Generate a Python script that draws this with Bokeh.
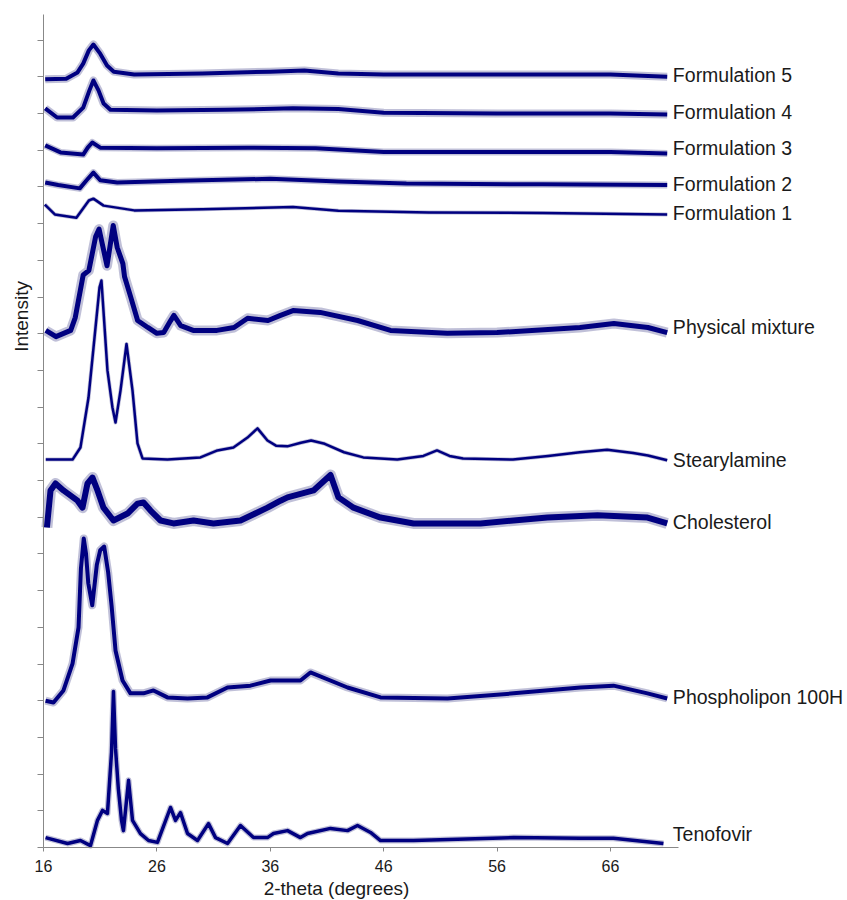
import math
from bokeh.plotting import figure
from bokeh.models import Range1d, FixedTicker
from bokeh.core.properties import value
from bokeh.embed import file_html
from bokeh.resources import INLINE

# ---------------- data (2-theta in degrees, intensity in tick units) ----------------
x_ticks = [16, 26, 36, 46, 56, 66]
x_min, x_max = 16, 72
y_min, y_max = 0, 22.7
y_ticks = list(range(0, 23))

names = ["Formulation 5", "Formulation 4", "Formulation 3", "Formulation 2", "Formulation 1",
         "Physical mixture", "Stearylamine", "Cholesterol", "Phospholipon 100H", "Tenofovir"]
offsets = [21.0, 20.0, 18.95, 18.05, 17.25, 14.05, 10.55, 8.8, 4.0, 0.0]

f5_x = [16.15, 18.0, 19.0, 19.5, 20.0, 20.4, 21.0, 21.6, 22.2, 24.0, 30.0, 36.0, 39.0, 42.0, 46.0, 56.0, 66.0, 71.0]
f5_y = [-0.07, -0.05, 0.12, 0.36, 0.72, 0.88, 0.63, 0.31, 0.14, 0.06, 0.09, 0.14, 0.17, 0.09, 0.06, 0.06, 0.06, 0.0]

f4_x = [16.15, 17.2, 18.6, 19.5, 20.05, 20.4, 20.85, 21.3, 21.9, 26.0, 32.0, 38.0, 42.0, 46.0, 56.0, 66.0, 71.0]
f4_y = [0.14, -0.11, -0.11, 0.16, 0.63, 0.9, 0.63, 0.27, 0.1, 0.08, 0.1, 0.14, 0.12, 0.02, 0.0, 0.0, -0.03]

f3_x = [16.15, 17.5, 19.5, 19.9, 20.3, 21.0, 26.0, 34.0, 40.0, 46.0, 56.0, 66.0, 71.0]
f3_y = [0.18, -0.01, -0.07, 0.12, 0.26, 0.12, 0.1, 0.12, 0.1, 0.0, 0.0, 0.0, -0.04]

f2_x = [16.15, 17.3, 19.2, 19.8, 20.4, 21.0, 22.5, 28.0, 36.0, 42.0, 48.0, 60.0, 71.0]
f2_y = [0.07, 0.0, -0.09, 0.13, 0.34, 0.13, 0.07, 0.12, 0.17, 0.1, 0.04, 0.02, 0.0]

f1_x = [16.12, 17.0, 18.9, 20.0, 20.4, 21.3, 24.0, 30.0, 38.0, 42.0, 50.0, 60.0, 71.0]
f1_y = [0.27, 0.0, -0.09, 0.38, 0.43, 0.24, 0.11, 0.14, 0.2, 0.1, 0.05, 0.04, 0.0]

pm_x = [16.2, 17.1, 18.4, 18.8, 19.5, 20.0, 20.6, 20.9, 21.6, 22.15, 22.5, 23.0, 23.15, 23.7, 24.3, 25.2,
        26.0, 26.6, 27.2, 27.5, 28.1, 29.2, 31.3, 32.8, 34.0, 35.8, 36.9, 38.0, 40.4, 43.7, 46.6, 51.6,
        56.0, 63.3, 66.3, 69.3, 71.0]
pm_y = [0.04, -0.13, 0.04, 0.39, 1.55, 1.67, 2.6, 2.8, 1.8, 2.9, 2.3, 1.86, 1.5, 0.94, 0.31, 0.12,
        -0.04, -0.02, 0.3, 0.45, 0.17, 0.04, 0.04, 0.12, 0.37, 0.31, 0.45, 0.58, 0.53, 0.31, 0.04, -0.04,
        -0.02, 0.12, 0.23, 0.12, -0.02]

st_x = [16.2, 18.56, 19.26, 19.97, 20.41, 20.94, 21.11, 21.64, 22.08, 22.35, 22.79, 23.32, 23.85, 24.29,
        24.73, 26.93, 29.84, 31.34, 32.75, 33.99, 34.87, 35.75, 36.5, 37.5, 38.7, 39.6, 40.8, 42.5,
        44.2, 47.2, 49.5, 50.7, 51.8, 53.0, 57.4, 60.5, 63.3, 65.7, 68.0, 69.3, 71.0]
st_y = [0.02, 0.02, 0.35, 1.71, 3.07, 4.71, 4.9, 2.45, 1.44, 1.03, 1.9, 3.17, 1.9, 0.46,
        0.05, 0.02, 0.08, 0.27, 0.35, 0.62, 0.87, 0.54, 0.4, 0.38, 0.48, 0.54, 0.45, 0.22,
        0.08, 0.02, 0.12, 0.27, 0.12, 0.05, 0.02, 0.12, 0.22, 0.29, 0.2, 0.13, 0.0]

ch_x = [16.3, 16.62, 17.06, 17.76, 19.0, 19.44, 19.88, 20.32, 20.76, 21.29, 22.17, 23.41, 24.29, 24.82,
        25.44, 26.32, 27.46, 29.23, 30.99, 33.37, 35.75, 36.9, 37.52, 39.81, 41.31, 42.01, 43.34, 45.72,
        48.63, 54.54, 57.45, 60.44, 64.85, 69.26, 71.0]
ch_y = [-0.08, 0.93, 1.12, 0.93, 0.65, 0.46, 1.12, 1.28, 0.93, 0.46, 0.11, 0.3, 0.57, 0.6,
        0.38, 0.11, 0.03, 0.11, 0.03, 0.11, 0.46, 0.65, 0.74, 0.93, 1.35, 0.74, 0.46, 0.19,
        0.03, 0.03, 0.11, 0.19, 0.25, 0.19, 0.03]

ph_x = [16.18, 16.88, 17.76, 18.56, 19.09, 19.3, 19.55, 19.75, 19.95, 20.3, 20.7, 21.0, 21.35, 21.7,
        22.0, 22.35, 22.97, 23.67, 24.82, 25.7, 26.93, 28.7, 30.46, 32.23, 34.25, 36.02, 38.66, 39.54,
        42.81, 45.72, 51.63, 57.45, 63.35, 66.26, 69.26, 71.0]
ph_y = [0.0, -0.05, 0.28, 1.01, 2.0, 3.6, 4.42, 4.0, 3.2, 2.6, 3.7, 4.1, 4.2, 3.5,
        2.6, 1.37, 0.55, 0.2, 0.2, 0.28, 0.09, 0.06, 0.09, 0.36, 0.41, 0.55, 0.55, 0.77,
        0.36, 0.09, 0.06, 0.2, 0.36, 0.41, 0.2, 0.06]

te_x = [16.18, 18.12, 19.26, 20.14, 20.76, 21.2, 21.64, 22.0, 22.17, 22.35, 22.6, 22.88, 23.05, 23.5,
        23.85, 24.55, 25.26, 26.05, 27.2, 27.64, 28.08, 28.7, 29.58, 30.55, 31.17, 32.23, 33.37, 34.52,
        35.75, 36.28, 37.52, 38.66, 39.28, 41.31, 42.81, 43.69, 44.84, 45.72, 48.63, 57.45, 63.35, 66.26, 70.67]
te_y = [0.27, 0.11, 0.19, 0.05, 0.74, 1.01, 0.93, 2.6, 4.25, 2.7, 1.6, 0.74, 0.46, 1.83,
        0.74, 0.38, 0.19, 0.14, 1.09, 0.74, 0.95, 0.38, 0.19, 0.65, 0.27, 0.11, 0.6, 0.27,
        0.27, 0.38, 0.46, 0.27, 0.38, 0.52, 0.46, 0.6, 0.41, 0.19, 0.19, 0.27, 0.25, 0.25, 0.11]

traces_x = [f5_x, f4_x, f3_x, f2_x, f1_x, pm_x, st_x, ch_x, ph_x, te_x]
traces_y = [f5_y, f4_y, f3_y, f2_y, f1_y, pm_y, st_y, ch_y, ph_y, te_y]

# ---------------- layout / style ----------------
W, H = 847, 900
PX_X = 11.34          # pixels per degree
PX_Y = 36.7           # pixels per intensity tick
ORIGIN_X, ORIGIN_Y = 43, 847   # canvas pixel of (16, 0)

label_x = 71.5
label_y = [21.04, 20.03, 19.05, 18.07, 17.28, 14.17, 10.57, 8.88, 4.09, 0.38]
xlabel_pos = (41.84, -1.12)
ylabel_pos = (14.06, 14.47)
band_w = [4, 4, 4, 4, 2.5, 5, 2.5, 6, 4, 3.5]   # core stroke
halo_w = [8, 8, 7, 7, 4, 10, 4, 11, 8, 6]       # fuzzy noise band
LINE = "#000080"
HALO = "#4a4a90"
TXT = "#1a1a1a"
AX = "#888888"
FONT = "Liberation Sans"

x_lo = x_min - ORIGIN_X / PX_X
x_hi = x_min + (W - ORIGIN_X) / PX_X
y_lo = y_min - (H - ORIGIN_Y) / PX_Y
y_hi = y_min + ORIGIN_Y / PX_Y

p = figure(width=W, height=H, output_backend="svg", toolbar_location=None,
           x_range=Range1d(x_lo, x_hi), y_range=Range1d(y_lo, y_hi),
           min_border=0)
p.outline_line_color = None
p.background_fill_color = "white"
p.border_fill_color = "white"
p.xgrid.visible = False
p.ygrid.visible = False

p.xaxis.fixed_location = y_min
p.xaxis.bounds = (x_min, x_max)
p.xaxis.ticker = FixedTicker(ticks=x_ticks)
p.xaxis.minor_tick_line_color = None
p.xaxis.major_tick_in = 0
p.xaxis.major_tick_out = 4
p.xaxis.axis_line_color = AX
p.xaxis.major_tick_line_color = AX
p.xaxis.major_label_text_font = FONT
p.xaxis.major_label_text_font_size = "16px"
p.xaxis.major_label_text_color = TXT
p.xaxis.major_label_standoff = 8

p.yaxis.fixed_location = x_min
p.yaxis.bounds = (y_min, y_max)
p.yaxis.ticker = FixedTicker(ticks=y_ticks)
p.yaxis.minor_tick_line_color = None
p.yaxis.major_tick_in = 0
p.yaxis.major_tick_out = 6
p.yaxis.axis_line_color = AX
p.yaxis.major_tick_line_color = AX
p.yaxis.major_label_overrides = {t: "" for t in y_ticks}

for xs, ys, off, w, hw in zip(traces_x, traces_y, offsets, band_w, halo_w):
    yy = [off + v for v in ys]
    p.line(xs, yy, line_color=HALO, line_alpha=0.35, line_width=hw, line_join="round")
    p.line(xs, yy, line_color=LINE, line_width=w, line_join="round")

p.text(x=[label_x] * len(names), y=label_y, text=names, text_font=value(FONT),
       text_font_size="19.5px", text_color=TXT, text_align="left", text_baseline="middle")

p.text(x=[xlabel_pos[0]], y=[xlabel_pos[1]], text=["2-theta (degrees)"], text_font=value(FONT),
       text_font_size="19px", text_color=TXT, text_align="center", text_baseline="middle")
p.text(x=[ylabel_pos[0]], y=[ylabel_pos[1]], text=["Intensity"], angle=math.pi / 2,
       text_font=value(FONT), text_font_size="19px", text_color=TXT,
       text_align="center", text_baseline="middle")

open("out.html", "w").write(file_html(p, INLINE))
